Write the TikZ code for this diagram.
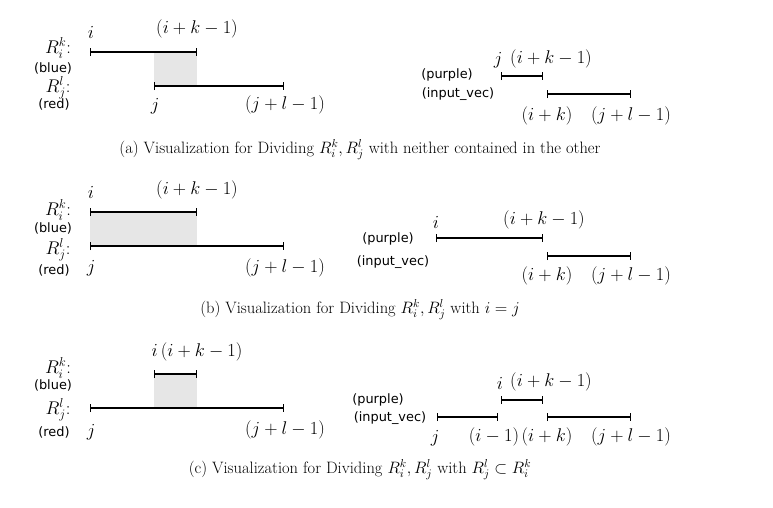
\RequirePackage{fix-cm}
\documentclass[tikz,border=0pt]{standalone}
\usepackage{fontspec}
\newfontfamily\lblfont{DejaVu Sans}
\usetikzlibrary{arrows.meta}
\definecolor{shade}{HTML}{E6E6E6}
\tikzset{
  seg/.style={line width=1.2pt,{Bar[width=8pt,line width=1.2pt]}-{Bar[width=8pt,line width=1.2pt]}},
  mlab/.style={inner sep=0pt,font=\fontsize{18.4}{21}\selectfont},
  slab/.style={inner sep=0pt,font=\lblfont\fontsize{12.9}{15}\selectfont},
  captext/.style={inner sep=0pt,font=\fontsize{16.5}{19}\selectfont},
  gray box/.style={fill=shade,draw=none}
}
\begin{document}
\begin{tikzpicture}[x=1pt,y=-1pt]
\useasboundingbox[fill=white] (0,0) rectangle (773,507);
% ---------------- (a) ----------------
\fill[gray box] (154,52) rectangle (197,86);
\coordinate (a1s) at (90,52); \coordinate (a1e) at (197,52);
\coordinate (a2s) at (154,86); \coordinate (a2e) at (284,86);
\draw[seg] (a1s) -- (a1e);
\draw[seg] (a2s) -- (a2e);
\node[mlab] (ai) at (91,32) {$i$};
\node[mlab] (aik) at (197,29) {$(i+k-1)$};
\node[mlab] (aR1) at (58,48) {$R_i^k$:};
\node[slab] (ab) at (53,68) {(blue)};
\node[mlab] (aR2) at (58,88) {$R_j^l$:};
\node[slab] (ar) at (54,104) {(red)};
\node[mlab] (aj) at (155,106) {$j$};
\node[mlab] (ajl) at (285,105) {$(j+l-1)$};
% right
\coordinate (a3s) at (501,76); \coordinate (a3e) at (543,76);
\coordinate (a4s) at (547,94); \coordinate (a4e) at (631,94);
\draw[seg] (a3s) -- (a3e);
\draw[seg] (a4s) -- (a4e);
\node[mlab] (arj) at (498,60) {$j$};
\node[mlab] (arik) at (551,59) {$(i+k-1)$};
\node[slab] (ap) at (447,75) {(purple)};
\node[slab] (av) at (458,94) {(input\_vec)};
\node[mlab] (arik2) at (547,116) {$(i+k)$};
\node[mlab] (arjl) at (631,116) {$(j+l-1)$};
\node[captext] (capa) at (360,150) {(a) Visualization for Dividing $R_i^k, R_j^l$ with neither contained in the other};
% ---------------- (b) ----------------
\fill[gray box] (90,212) rectangle (197,246);
\coordinate (b1s) at (90,212); \coordinate (b1e) at (197,212);
\coordinate (b2s) at (90,246); \coordinate (b2e) at (284,246);
\draw[seg] (b1s) -- (b1e);
\draw[seg] (b2s) -- (b2e);
\node[mlab] (bi) at (91,192) {$i$};
\node[mlab] (bik) at (197,190) {$(i+k-1)$};
\node[mlab] (bR1) at (58,210) {$R_i^k$:};
\node[slab] (bb) at (53,228) {(blue)};
\node[mlab] (bR2) at (58,250) {$R_j^l$:};
\node[slab] (br) at (54,270) {(red)};
\node[mlab] (bj) at (91,268) {$j$};
\node[mlab] (bjl) at (285,268) {$(j+l-1)$};
% right
\coordinate (b3s) at (436,238); \coordinate (b3e) at (543,238);
\coordinate (b4s) at (547,256); \coordinate (b4e) at (631,256);
\draw[seg] (b3s) -- (b3e);
\draw[seg] (b4s) -- (b4e);
\node[mlab] (bri) at (436,222) {$i$};
\node[mlab] (brik) at (544,220) {$(i+k-1)$};
\node[slab] (bp) at (388,239) {(purple)};
\node[slab] (bv) at (393,262) {(input\_vec)};
\node[mlab] (brik2) at (547,276) {$(i+k)$};
\node[mlab] (brjl) at (631,276) {$(j+l-1)$};
\node[captext] (capb) at (360,310) {(b) Visualization for Dividing $R_i^k, R_j^l$ with $i=j$};
% ---------------- (c) ----------------
\fill[gray box] (154,374) rectangle (197,408);
\coordinate (c1s) at (154,374); \coordinate (c1e) at (197,374);
\coordinate (c2s) at (90,408); \coordinate (c2e) at (284,408);
\draw[seg] (c1s) -- (c1e);
\draw[seg] (c2s) -- (c2e);
\node[mlab] (cik) at (197,352) {$i\,(i+k-1)$};
\node[mlab] (cR1) at (58,368) {$R_i^k$:};
\node[slab] (cb) at (53,385) {(blue)};
\node[mlab] (cR2) at (58,410) {$R_j^l$:};
\node[slab] (cr) at (54,432) {(red)};
\node[mlab] (cj) at (91,432) {$j$};
\node[mlab] (cjl) at (285,430) {$(j+l-1)$};
% right
\coordinate (c3s) at (501,400); \coordinate (c3e) at (543,400);
\coordinate (c4s) at (437,417); \coordinate (c4e) at (498,417);
\coordinate (c5s) at (547,417); \coordinate (c5e) at (631,417);
\draw[seg] (c3s) -- (c3e);
\draw[seg] (c4s) -- (c4e);
\draw[seg] (c5s) -- (c5e);
\node[mlab] (cri) at (500,383) {$i$};
\node[mlab] (crik) at (551,382) {$(i+k-1)$};
\node[slab] (cp) at (378,400) {(purple)};
\node[slab] (cv) at (390,418) {(input\_vec)};
\node[mlab] (crj) at (435,438) {$j$};
\node[mlab] (cri1) at (494,437) {$(i-1)$};
\node[mlab] (crik2) at (547,437) {$(i+k)$};
\node[mlab] (crjl) at (631,437) {$(j+l-1)$};
\node[captext] (capc) at (360,470) {(c) Visualization for Dividing $R_i^k, R_j^l$ with $R_j^l\subset R_i^k$};
\end{tikzpicture}
\end{document}
